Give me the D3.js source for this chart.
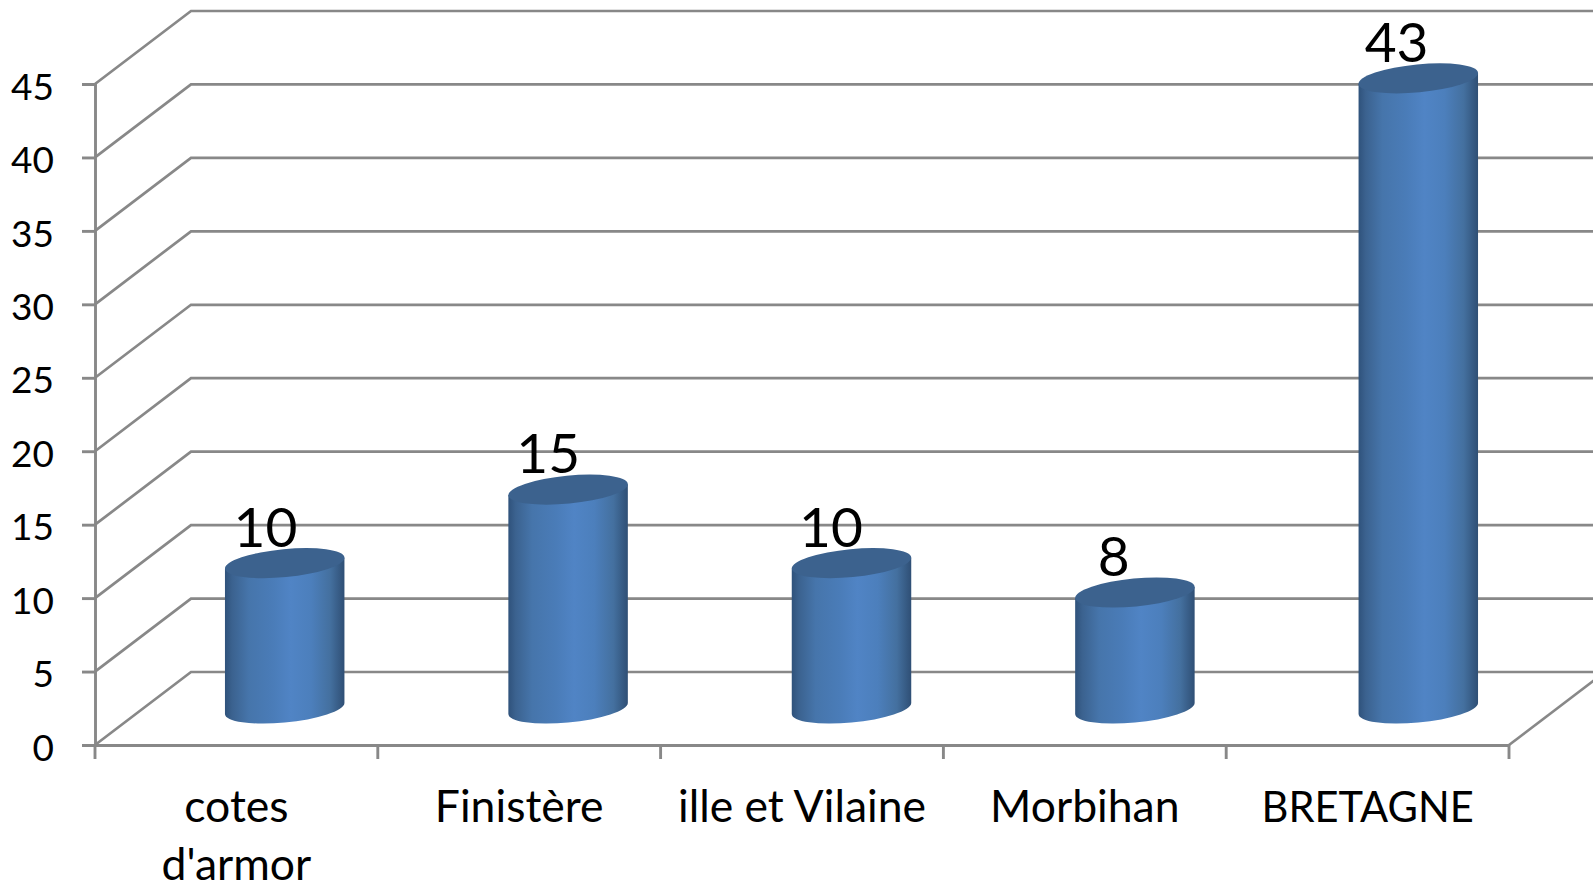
<!DOCTYPE html>
<html><head><meta charset="utf-8">
<script src="https://cdn.jsdelivr.net/npm/d3@7/dist/d3.min.js"></script>
<style>html,body{margin:0;padding:0;background:#fff;overflow:hidden}svg{display:block}text{font-family:Lato,"Open Sans",sans-serif;fill:#000}</style>
</head><body><svg id="c" width="1593" height="884"></svg>
<script>
const categories = [["cotes","d'armor"],["Finistère"],["ille et Vilaine"],["Morbihan"],["BRETAGNE"]];
const values = [10,15,10,8,43];
const tickValues = [0,5,10,15,20,25,30,35,40,45];

const W=1593,H=884,plotLeft=95,plotRight=1509,plotBottom=745,plotTop=84,depthX=96,depthY=73;
const svg=d3.select("#c");
const keys=categories.map(c=>c.join(" "));
const x=d3.scaleBand().domain(keys).range([plotLeft,plotRight]);
// the cylinders stand mid-way into the depth, on a slightly wider band
const xBar=d3.scaleBand().domain(keys).range([plotLeft+depthX/2,plotRight+depthX/2+3]);
const y=d3.scaleLinear().domain([0,45]).range([plotBottom,plotTop]);
const grid="#888888";

const defs=svg.append("defs");
const g=defs.append("linearGradient").attr("id","cyl").attr("x1",0).attr("x2",1).attr("y1",0).attr("y2",0);
[[0,"#2f527b"],[0.06,"#3b628f"],[0.2,"#4675ab"],[0.4,"#4a7cb8"],[0.55,"#5084c5"],[0.72,"#4c7fbc"],[0.88,"#44709f"],[1,"#2f4f75"]]
 .forEach(s=>g.append("stop").attr("offset",s[0]).attr("stop-color",s[1]));

// walls and floor
const walls=svg.append("g").attr("fill","none").attr("stroke",grid).attr("stroke-width",2.7);
tickValues.forEach(v=>{
  walls.append("path").attr("d",`M${plotLeft},${y(v)}L${plotLeft+depthX},${y(v)-depthY}L${W+5},${y(v)-depthY}`);
});
walls.append("path").attr("d",`M${plotRight},${plotBottom}L${plotRight+depthX},${plotBottom-depthY}`);

// axes
const ay=svg.append("g").attr("transform",`translate(${plotLeft},0)`)
  .call(d3.axisLeft(y).tickValues(tickValues).tickSize(13).tickPadding(28));
ay.selectAll("path,line").attr("stroke",grid).attr("stroke-width",2.9);
ay.selectAll("text").attr("font-size",37).attr("dy","0.41em").style("font-family",'Lato').attr("fill","#000");

const ax=svg.append("g").attr("transform",`translate(0,${plotBottom})`)
  .call(d3.axisBottom(x).tickSize(0).tickFormat(""));
ax.select("path").attr("stroke",grid).attr("stroke-width",2.9);
const edges=d3.range(categories.length+1).map(i=>plotLeft+i*x.step());
svg.append("g").selectAll("line").data(edges).join("line")
  .attr("x1",d=>d).attr("x2",d=>d).attr("y1",plotBottom).attr("y2",plotBottom+14)
  .attr("stroke",grid).attr("stroke-width",2.9);

// cylinders
const a=60,b=14,theta=-5.5,th=theta*Math.PI/180;
const xe=Math.sqrt(a*a*Math.cos(th)**2+b*b*Math.sin(th)**2);
const ye=(a*a-b*b)*Math.sin(th)*Math.cos(th)/xe;
const base=y(0)-depthY/2;
const yv=d=>base-(y(0)-y(d))+1.5;
const bars=svg.append("g");
values.forEach((d,i)=>{
  const c=xBar(keys[i])+xBar.bandwidth()/2,t=yv(d);
  bars.append("path")
    .attr("d",`M${c-xe},${t-ye}L${c-xe},${base-ye}A${a},${b},${theta},0,0,${c+xe},${base+ye}L${c+xe},${t+ye}Z`)
    .attr("fill","url(#cyl)");
  bars.append("ellipse").attr("rx",a).attr("ry",b)
    .attr("transform",`translate(${c},${t}) rotate(${theta})`).attr("fill","#3c628e");
  svg.append("text").attr("x",x(keys[i])+x.bandwidth()/2+depthX/2-19).attr("y",t-16.5).attr("text-anchor","middle")
    .attr("font-size",55).text(d);
});

// category labels (Lato stands in for the original font, so capitals run a little narrower)
categories.forEach((lines,i)=>{
  const c=x(keys[i])+x.bandwidth()/2;
  lines.forEach((l,j)=>svg.append("text").attr("x",c).attr("y",822+j*58)
    .attr("text-anchor","middle").attr("font-size",l===l.toUpperCase()?41.6:44.5).text(l));
});
</script></body></html>
